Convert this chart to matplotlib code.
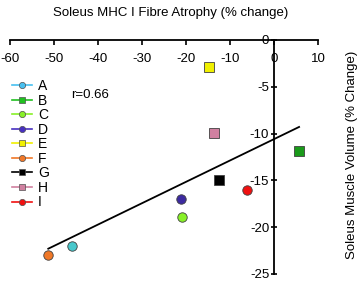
import matplotlib
matplotlib.use("Agg")
import matplotlib.pyplot as plt
from matplotlib.lines import Line2D
import numpy as np

plt.rcParams['font.family'] = ['Liberation Sans', 'DejaVu Sans']

labels = ['A', 'B', 'C', 'D', 'E', 'F', 'G', 'H', 'I']
atrophy = [-46.0, 5.7, -21.0, -21.2, -14.7, -51.3, -12.4, -13.6, -6.2]
volume = [-22.0, -11.9, -18.9, -17.0, -2.85, -23.0, -15.0, -9.9, -16.0]
colors = ['#48c8cc', '#1a9a1a', '#88f028', '#3c2aa0', '#f0f000', '#f07828',
          '#000000', '#d080a0', '#f01010']
legend_colors = ['#48c0f0', '#20c020', '#88f028', '#4830c0', '#f0f000', '#f07828',
                 '#000000', '#d080a0', '#f01010']
markers = ['o', 's', 'o', 'o', 's', 'o', 's', 's', 'o']
xticks = [-60, -50, -40, -30, -20, -10, 0, 10]
yticks = [0, -5, -10, -15, -20, -25]
r_text = 'r=0.66'

fig = plt.figure(figsize=(3.6, 2.81), dpi=100)
ax = fig.add_axes([10/360, 1 - 274/281, 308/360, 234/281])
ax.set_xlim(-60, 10)
ax.set_ylim(-25, 0)
ax.patch.set_alpha(0)

for x, y, c, m in zip(atrophy, volume, colors, markers):
    ax.plot([x], [y], marker=m, markersize=6.8, color=c, markeredgecolor='#404040',
            markeredgewidth=0.6, linestyle='none', zorder=3, clip_on=False)

slope, intercept = np.polyfit(atrophy, volume, 1)
fx = np.array([min(atrophy), max(atrophy)])
ax.plot(fx, slope * fx + intercept, color='black', linewidth=1.3, zorder=2)

for s in ['right', 'top']:
    ax.spines[s].set_visible(False)
ax.spines['bottom'].set_position(('data', 0))
ax.spines['left'].set_position(('data', 0))
ax.spines['bottom'].set_linewidth(1.3)
ax.spines['left'].set_linewidth(1.3)
ax.xaxis.set_ticks_position('bottom')
ax.yaxis.set_ticks_position('left')
ax.set_xticks(xticks)
ax.set_yticks(yticks)
ax.set_xticklabels([str(t) for t in xticks])
ax.set_yticklabels([str(t) for t in yticks])
ax.tick_params(axis='x', direction='out', length=3.5, width=1.2, labelsize=9.5, pad=6)
ax.tick_params(axis='y', direction='inout', length=5, width=1.2, labelsize=9.5, pad=1)

fig.text(171/360, 1 - 13/281, 'Soleus MHC I Fibre Atrophy (% change)', ha='center',
         va='center', fontsize=9.5)
fig.text(352/360, 1 - 155/281, 'Soleus Muscle Volume (% Change)', ha='center',
         va='center', rotation=90, fontsize=9.5)
ax.text(-46, -5.9, r_text, fontsize=9.5, ha='left', va='center')

handles = [Line2D([0], [0], color=lc, marker=m, markersize=4.5, markerfacecolor=lc,
                  markeredgecolor='#505050', markeredgewidth=0.5, linewidth=1.2)
           for lc, m in zip(legend_colors, markers)]
leg = ax.legend(handles, labels, loc='upper left', bbox_to_anchor=(0.005, 1 - 39/234),
                frameon=False, fontsize=10, handlelength=1.5, handletextpad=0.4,
                labelspacing=0.04, borderaxespad=0, borderpad=0)

fig.savefig('out.png', dpi=100)
